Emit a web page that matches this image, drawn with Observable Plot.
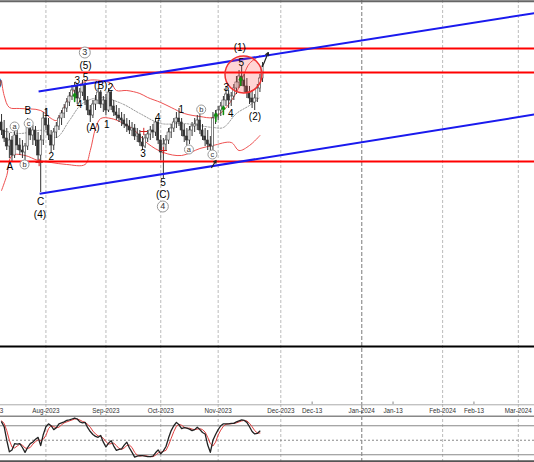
<!DOCTYPE html>
<html><head><meta charset="utf-8">
<script src="https://cdn.jsdelivr.net/npm/d3@7"></script>
<script src="https://cdn.jsdelivr.net/npm/@observablehq/plot@0.6"></script>
<style>
html,body{margin:0;padding:0;background:#fff;overflow:hidden;}
svg{display:block;overflow:hidden;}
</style></head><body><div id="chart"></div>
<script>
// ---------- data ----------
const firstBar = -17; // bar index of first candle (Aug-01-2023 = 0)
const open = [228,220,212,204,210,195,215,205,200,198,204,226,215,220,210,195,210,
 232,225,215,205,218,224,232,237,242,248,
 254,260,264,252,258,265,250,240,235,246,
 250,258,246,250,240,258,244,238,235,232,
 230,226,224,220,222,214,216,208,204,212,
 216,220,218,228,210,198,206,210,218,222,
 228,232,228,220,214,210,220,224,226,230,
 220,214,210,206,204,232,236,240,244,250,
 256,250,254,262,268,274,270,264,258,252,
 248,252,262,272];
const high = [236,230,222,217,214,222,220,212,210,207,232,230,225,224,218,215,238,
 242,232,220,222,228,235,240,246,252,258,
 265,268,266,262,270,268,254,245,250,255,
 262,260,254,256,262,260,250,245,242,238,
 236,232,230,228,226,222,220,214,216,220,
 224,226,232,230,215,212,215,222,226,232,
 238,242,232,226,222,224,228,232,235,238,
 226,222,220,214,238,240,244,248,254,264,
 260,258,266,274,280,284,276,272,264,260,
 256,266,276,288];
const low = [215,208,200,192,188,192,200,195,192,190,200,210,205,204,190,158,205,
 220,210,198,200,212,220,225,232,238,244,
 250,252,246,248,254,245,235,228,232,240,
 246,242,238,235,238,240,234,230,228,224,
 222,218,216,214,210,208,204,200,202,208,
 210,212,214,206,190,172,200,206,212,218,
 222,224,214,208,204,206,214,218,220,216,
 210,204,200,198,200,226,230,234,238,244,
 242,244,250,256,262,264,258,252,246,242,
 240,248,258,268];
const close = [220,212,204,210,195,215,205,200,198,204,226,215,220,210,195,210,232,
 225,215,205,218,224,232,237,242,248,254,
 260,264,252,258,265,250,240,235,246,250,
 258,246,250,240,258,244,238,235,232,230,
 226,224,220,222,214,216,208,204,212,216,
 220,218,228,210,198,206,210,218,222,228,
 232,228,220,214,210,220,224,226,230,220,
 214,210,206,204,232,236,240,244,250,256,
 250,254,262,268,274,270,264,258,252,248,
 252,262,272,284];

// Bollinger bands and middle average (bar index, price)
const upperBandX = [-17,-16,-14,-10,-2,2,4,6,9,12,16,21,25,27,31,36,39,44,48,53,59,64,68,73,76,78,82];
const upperBandY = [270,255,243,242,240,232,230,238,253,264,270,270,267,260,260,257,253,248,243,237,234,233,240,258,277,287,295];
const lowerBandX = [-17,-15,-13,-8,-3,2,8,15,17,19,21,25,29,34,39,45,52,59,64,71,74,78,82];
const lowerBandY = [160,175,195,195,190,188,186,186,200,222,232,232,228,220,207,198,195,202,205,208,200,205,215];
const middleX = [-17,-10,-1,4,9,14,21,29,36,44,53,64,68,73,78,82];
const middleY = [220,217,220,213,230,247,253,247,237,227,227,223,223,237,245,253];

// key levels and channel
const levels = [302, 278, 189];
const channelX1 = [-2.8, -2.4];
const channelY1 = [259, 156.7];
const channelX2 = [187.2, 187.2];
const channelY2 = [337.4, 236];

// wave labels
const waveText = ["A","B","1","2","C","(4)","3","5","(5)","4","(A)","(B)","2","1","3","4","5","(C)","1","3","4","5","(1)","(2)","(3)"];
const waveX = [-13.8,-6.9,0.2,2.1,-2.0,-2.3,12.0,15.2,15.2,12.9,18,21,24.8,23.3,37.2,42.9,44.9,44.8,51.9,69.1,70.8,74.9,74.3,80.1,-19.2];
const waveY = [184,240,238,194,149,136,270,273,285,246,223,265,263,226,197,233,168,156,241,263,237,288,303,234,268];
const smallCircText = ["a","b","c","a","b","c"];
const smallCircX = [-12,-8.2,-6.6,54.8,59.5,63.8];
const smallCircY = [224,186,227,201,241,196];
const bigCircText = ["3","4"];
const bigCircX = [14.9,44.8];
const bigCircY = [298,144];

// stochastic oscillator (bar index from firstBar)
const stochK = [88,78,50,26,30,43,42,43,35,25,35,43,46,52,56,39,62,
 78,84,80,72,76,84,86,88,91,92,
 94,96,94,88,86,87,76,68,62,58,
 56,60,46,36,44,49,38,29,31,32,
 40,46,34,25,15,17,18,18,17,16,
 16,17,24,30,22,28,37,55,70,80,
 87,82,74,76,75,73,70,72,77,72,
 66,63,40,25,50,62,72,80,84,84,
 84,85,85,88,90,92,91,87,78,68,
 63,64,69];
const stochD = [90,85,70,50,36,34,38,42,40,34,33,35,42,47,51,49,52,
 60,74,80,78,76,77,82,86,88,90,
 92,94,94,92,89,87,83,77,69,63,
 59,58,54,47,42,43,44,39,33,31,
 34,39,40,35,25,19,17,18,18,17,
 16,16,19,24,25,27,29,40,54,68,
 79,83,81,77,75,75,73,72,73,74,
 72,67,56,43,38,46,61,71,79,83,
 84,84,85,86,88,90,91,90,85,78,
 70,65,65];

// time axis
const monthLabels = ["Jul-2023","Aug-2023","Sep-2023","Oct-2023","Nov-2023","Dec-2023","Jan-2024","Feb-2024","Mar-2024"];
const monthIdx = [-21,0,23,44,66,90,121,152,181];
const midLabels = ["Dec-13","Jan-13","Feb-13"];
const midIdx = [102,133,164];

// ---------- build ----------
const FONT = "Liberation Sans, Arial, sans-serif";
const xDom = [-17.4, 187.2];
const candles = open.map((o,k)=>({i:firstBar+k, o, h:high[k], l:low[k], c:close[k]}));
const pts = (xs, ys) => xs.map((x,k)=>({x, y:ys[k]}));
const upper = pts(upperBandX, upperBandY), lower = pts(lowerBandX, lowerBandY), middle = pts(middleX, middleY);
const channel = channelX1.map((x,k)=>({x1:x, y1:channelY1[k], x2:channelX2[k], y2:channelY2[k]}));
const waves = waveText.map((t,k)=>({t, x:waveX[k], y:waveY[k]}));
const smallC = smallCircText.map((t,k)=>({t, x:smallCircX[k], y:smallCircY[k]}));
const bigC = bigCircText.map((t,k)=>({t, x:bigCircX[k], y:bigCircY[k]}));
const months = monthLabels.map((t,k)=>({t, x:monthIdx[k]}));
const mids = midLabels.map((t,k)=>({t, x:midIdx[k]}));
const gridNormal = monthIdx.filter(d => d !== 121);
const gridYear = [121];
const oscK = stochK.map((v,k)=>({x:firstBar+k, y:v}));
const oscD = stochD.map((v,k)=>({x:firstBar+k, y:v}));

const gridMarks = () => [
  Plot.ruleX(gridNormal, {stroke:"#bbb", strokeDasharray:"3,2", strokeWidth:1}),
  Plot.ruleX(gridYear, {stroke:"#999", strokeDasharray:"4,2", strokeWidth:1.3})
];

const main = Plot.plot({
  width:534, height:404, margin:0,
  x:{domain:xDom, axis:null},
  y:{domain:[-54,350], axis:null},
  style:{background:"#fff", fontFamily:FONT},
  marks:[
    ...gridMarks(),
    Plot.ruleY([349.3], {stroke:"#666", strokeWidth:2}),
    Plot.ruleY([4], {stroke:"#000", strokeWidth:2}),
    Plot.ruleX(midIdx, {y1:-54, y2:-51.5, stroke:"#888"}),
    Plot.line(upper, {x:"x", y:"y", stroke:"#ee5050", strokeWidth:1, curve:"catmull-rom"}),
    Plot.line(lower, {x:"x", y:"y", stroke:"#ee5050", strokeWidth:1, curve:"catmull-rom"}),
    Plot.line(middle, {x:"x", y:"y", stroke:"#999", strokeWidth:1, strokeDasharray:"1.5,1.5", curve:"catmull-rom"}),
    Plot.ruleX(candles, {x:"i", y1:"l", y2:"h", stroke:"#333", strokeWidth:1}),
    Plot.rect(candles.filter(d=>d.c>=d.o), {x1:d=>d.i-0.4, x2:d=>d.i+0.4, y1:"o", y2:"c", fill:"#fff", stroke:"#444", strokeWidth:0.6}),
    Plot.rect(candles.filter(d=>d.c<d.o), {x1:d=>d.i-0.4, x2:d=>d.i+0.4, y1:"o", y2:"c", fill:"#333", stroke:"#333", strokeWidth:0.6}),
    Plot.ruleY(levels, {stroke:"#ff0000", strokeWidth:2}),
    Plot.link(channel, {x1:"x1", y1:"y1", x2:"x2", y2:"y2", stroke:"#1a1aee", strokeWidth:2}),
    Plot.dot([{x:75.7, y:276}], {x:"x", y:"y", r:18.5, fill:"#ff4040", fillOpacity:0.22, stroke:"#f03030", strokeWidth:1.5}),
    Plot.dot([{x:-2.6,y:188},{x:37.5,y:219},{x:45,y:200}], {x:"x", y:"y", symbol:"plus", r:2.5, stroke:"#d02020", strokeWidth:1}),
    Plot.arrow([{x:11,y:249},{x:65.1,y:229},{x:68,y:236},{x:74.6,y:265}], {x1:"x", y1:"y", x2:"x", y2:d=>d.y+8, stroke:"#109010", strokeWidth:1.6, headLength:3.5}),
    Plot.arrow([{x1:83,y1:284,x2:85.2,y2:298},{x1:63.5,y1:183,x2:65.2,y2:190}], {x1:"x1", y1:"y1", x2:"x2", y2:"y2", stroke:"#222", strokeWidth:1.2, headLength:4}),
    Plot.text(waves, {x:"x", y:"y", text:"t", fontSize:10, fill:"#000", fontFamily:FONT}),
    Plot.dot(smallC, {x:"x", y:"y", r:4.5, fill:"#fff", stroke:"#999", strokeWidth:1}),
    Plot.text(smallC, {x:"x", y:"y", text:"t", fontSize:7.5, fill:"#333", fontFamily:FONT}),
    Plot.dot(bigC, {x:"x", y:"y", r:5.5, fill:"#fff", stroke:"#999", strokeWidth:1}),
    Plot.text(bigC, {x:"x", y:"y", text:"t", fontSize:9, fill:"#333", fontFamily:FONT})
  ]
});

const osc = Plot.plot({
  width:534, height:58, margin:0,
  x:{domain:xDom, axis:null},
  y:{domain:[3.93,124], axis:null},
  style:{background:"#fff", fontFamily:FONT},
  marks:[
    ...gridMarks(),
    Plot.ruleY([123.4], {stroke:"#aaa", strokeWidth:1}),
    Plot.ruleY([99.8], {stroke:"#888", strokeWidth:1.5}),
    Plot.ruleY([80, 20], {stroke:"#888", strokeWidth:1.2}),
    Plot.ruleY([50], {stroke:"#888", strokeWidth:1, strokeDasharray:"2,2"}),
    Plot.ruleY([6.6], {stroke:"#555", strokeWidth:2}),
    Plot.text(months, {x:"x", y:110.8, text:"t", fontSize:6.3, fill:"#333", fontFamily:FONT}),
    Plot.text(mids, {x:"x", y:110.8, text:"t", fontSize:6.3, fill:"#333", fontFamily:FONT}),
    Plot.line(oscD, {x:"x", y:"y", stroke:"#e04040", strokeWidth:1}),
    Plot.line(oscK, {x:"x", y:"y", stroke:"#222", strokeWidth:1.3})
  ]
});

const el = document.getElementById("chart");
el.appendChild(main);
el.appendChild(osc);
</script>
</body></html>
